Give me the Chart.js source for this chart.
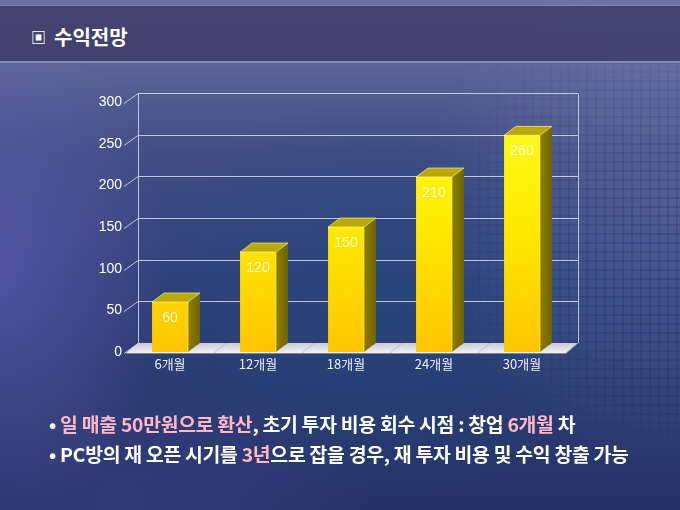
<!DOCTYPE html>
<html>
<head>
<meta charset="utf-8">
<script src="https://cdn.jsdelivr.net/npm/chart.js@4.4.1/dist/chart.umd.min.js"></script>
<style>
  html,body{margin:0;padding:0;}
  body{width:680px;height:510px;overflow:hidden;position:relative;
    background:
      radial-gradient(ellipse 170px 250px at 0px 270px, rgba(120,105,205,0.45), rgba(120,105,205,0) 100%),
      radial-gradient(ellipse 260px 200px at 380px 300px, rgba(30,75,125,0.5), rgba(30,75,125,0) 100%),
      radial-gradient(ellipse 260px 140px at 120px 510px, rgba(80,75,150,0.3), rgba(80,75,150,0) 100%),
      linear-gradient(180deg,#6a72a4 0%,#5b6397 13%,#414d85 30%,#30407a 55%,#2a3a70 80%,#26336a 100%);
    font-family:"Noto Sans CJK KR","Noto Sans",sans-serif;}
  #checks{position:absolute;left:380px;top:0;width:300px;height:510px;
    background-image:
      linear-gradient(90deg, rgba(255,255,255,0) 0 1px, rgba(170,180,230,0.11) 1px 8px, rgba(255,255,255,0) 8px 9px),
      linear-gradient(0deg, rgba(255,255,255,0) 0 1px, rgba(170,180,230,0.11) 1px 8px, rgba(255,255,255,0) 8px 9px);
    background-size:9px 9px;
    -webkit-mask-image:radial-gradient(ellipse 260px 260px at 300px 210px, rgba(0,0,0,1) 0%, rgba(0,0,0,0.6) 50%, rgba(0,0,0,0) 100%);
    mask-image:radial-gradient(ellipse 260px 260px at 300px 210px, rgba(0,0,0,1) 0%, rgba(0,0,0,0.6) 50%, rgba(0,0,0,0) 100%);}
  #band{position:absolute;left:0;top:5px;width:680px;height:55px;background:rgba(66,62,108,0.93);
    border-top:1px solid #7c84ae;border-bottom:2px solid #838ab4;}
  #title{position:absolute;left:31px;top:23px;color:#fff;font-weight:bold;font-size:20px;line-height:28px;white-space:nowrap;}
  #title .box{font-size:15px;margin-right:8px;position:relative;top:-2px;}
  .bul{position:absolute;left:49px;color:#fff;font-weight:bold;font-size:19px;line-height:24px;white-space:nowrap;
    transform-origin:0 50%;transform:scaleX(1.02);letter-spacing:-0.3px;}
  .pk{color:#ffb9c6;}
  #b1{top:412px;}
  #b2{top:442px;}
  canvas{position:absolute;left:0;top:0;}
</style>
</head>
<body>
<div id="checks"></div>
<div id="band"></div>
<div id="title"><span class="box">▣</span>수익전망</div>
<canvas id="c" width="680" height="510"></canvas>
<div class="bul" id="b1">• <span class="pk">일 매출 50만원으로 환산</span>, 초기 투자 비용 회수 시점 : 창업 <span class="pk">6개월</span> 차</div>
<div class="bul" id="b2">• PC방의 재 오픈 시기를 <span class="pk">3년</span>으로 잡을 경우, 재 투자 비용 및 수익 창출 가능</div>
<script>
const categories = ["6개월","12개월","18개월","24개월","30개월"];
const revenue = [60,120,150,210,260];
const yTicksMin = 0, yTicksMax = 300, yTicksStep = 50;

const DX = 12, DY = -9;

const threeD = {
  id:'threeD',
  beforeDatasetsDraw(chart){
    const ctx = chart.ctx, a = chart.chartArea, ys = chart.scales.y;
    ctx.save();
    const b = ys.getPixelForValue(0);
    const fg = ctx.createLinearGradient(0,b+DY,0,b+2);
    fg.addColorStop(0,'#c9cbd6'); fg.addColorStop(1,'#f4f4f8');
    ctx.fillStyle = fg;
    ctx.beginPath();
    ctx.moveTo(a.left,b+1); ctx.lineTo(a.right,b+1);
    ctx.lineTo(a.right+DX,b+DY); ctx.lineTo(a.left+DX,b+DY); ctx.closePath(); ctx.fill();
    ctx.strokeStyle='rgba(150,150,165,0.8)'; ctx.lineWidth=1;
    ctx.beginPath(); ctx.moveTo(a.left,b+1.5); ctx.lineTo(a.right,b+1.5); ctx.lineTo(a.right+DX,b+DY); ctx.stroke();
    const xs = chart.scales.x;
    ctx.strokeStyle='rgba(160,160,175,0.6)';
    for(let i=1;i<categories.length;i++){
      const px=(xs.getPixelForValue(i-1)+xs.getPixelForValue(i))/2;
      ctx.beginPath(); ctx.moveTo(px,b+1); ctx.lineTo(px+DX,b+DY); ctx.stroke();
    }
    ctx.strokeStyle='rgba(215,218,235,0.85)'; ctx.lineWidth=1;
    ys.ticks.forEach(t=>{
      const py = Math.round(ys.getPixelForValue(t.value))+0.5;
      if(t.value>0){
        ctx.beginPath(); ctx.moveTo(a.left+DX,py+DY); ctx.lineTo(a.right+DX,py+DY); ctx.stroke();
      }
      ctx.beginPath(); ctx.moveTo(a.left-2,py+1); ctx.lineTo(a.left+DX,py+DY); ctx.stroke();
    });
    const top = Math.round(ys.getPixelForValue(yTicksMax))+0.5+DY;
    ctx.beginPath(); ctx.moveTo(a.left+DX+0.5,top); ctx.lineTo(a.left+DX+0.5,b+DY); ctx.stroke();
    ctx.beginPath(); ctx.moveTo(a.right+DX+0.5,top); ctx.lineTo(a.right+DX+0.5,b+DY); ctx.stroke();
    ctx.restore();
  },
  afterDatasetsDraw(chart){
    const ctx = chart.ctx;
    const meta = chart.getDatasetMeta(0);
    ctx.save();
    meta.data.forEach((el,i)=>{
      const {x,y,base,width} = el.getProps(['x','y','base','width'],true);
      const l = x-width/2, r = x+width/2;
      const sg = ctx.createLinearGradient(r,0,r+DX,0);
      sg.addColorStop(0,'#8f8100'); sg.addColorStop(1,'#6f6400');
      ctx.fillStyle = sg;
      ctx.beginPath(); ctx.moveTo(r,y); ctx.lineTo(r+DX,y+DY); ctx.lineTo(r+DX,base+DY); ctx.lineTo(r,base); ctx.closePath(); ctx.fill();
      ctx.fillStyle = '#bba800';
      ctx.beginPath(); ctx.moveTo(l,y); ctx.lineTo(l+DX,y+DY); ctx.lineTo(r+DX,y+DY); ctx.lineTo(r,y); ctx.closePath(); ctx.fill();
      ctx.strokeStyle='rgba(255,250,170,0.8)'; ctx.lineWidth=0.8;
      ctx.beginPath(); ctx.moveTo(l,y); ctx.lineTo(l+DX,y+DY); ctx.lineTo(r+DX,y+DY); ctx.moveTo(l,y); ctx.lineTo(r,y); ctx.lineTo(r+DX,y+DY); ctx.moveTo(r,y); ctx.lineTo(r,base); ctx.stroke();
      ctx.fillStyle = '#fffbd6';
      ctx.font = '14px "Liberation Sans", Arial, sans-serif';
      ctx.textAlign='center'; ctx.textBaseline='middle';
      ctx.fillText(String(revenue[i]), x, y+16);
    });
    ctx.restore();
  }
};

new Chart(document.getElementById('c'),{
  type:'bar',
  data:{labels:categories,datasets:[{data:revenue,
    backgroundColor:(c)=>{
      const ch=c.chart; const xs=ch.scales&&ch.scales.x;
      if(!ch.chartArea||!xs||c.dataIndex===undefined) return '#ffe800';
      const cx=xs.getPixelForValue(c.dataIndex);
      const g=ch.ctx.createLinearGradient(cx-18,ch.chartArea.top,cx+18,ch.chartArea.bottom);
      g.addColorStop(0,'#ffff20'); g.addColorStop(0.5,'#ffea00'); g.addColorStop(1,'#ffc400');
      return g;
    },
    borderWidth:0,
    categoryPercentage:0.8, barPercentage:0.51}]},
  options:{
    responsive:false, animation:false, devicePixelRatio:1,
    layout:{padding:{left:86,right:114,top:102,bottom:138}},
    plugins:{legend:{display:false},tooltip:{enabled:false}},
    scales:{
      x:{grid:{display:false,drawTicks:false},border:{display:false},
         ticks:{color:'#eceef6',padding:4,font:{family:'"Noto Sans CJK KR", sans-serif',size:13}},
         afterFit:(s)=>{s.height=20;}},
      y:{min:yTicksMin,max:yTicksMax,grid:{display:false,drawTicks:false},border:{display:false},
         ticks:{stepSize:yTicksStep,color:'#ffffff',padding:4,font:{family:'"Liberation Sans", Arial, sans-serif',size:14}},
         afterFit:(s)=>{s.width=40;}}
    }
  },
  plugins:[threeD]
});
</script>
</body>
</html>
